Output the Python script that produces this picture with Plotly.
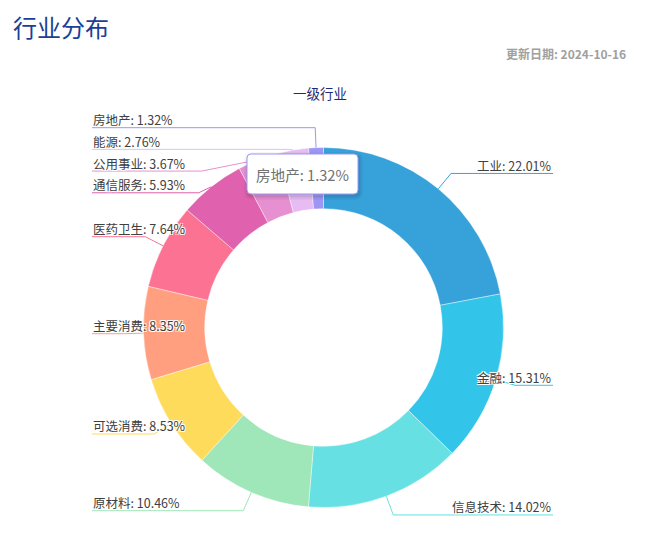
import math
import plotly.graph_objects as go

# ---------------- data ----------------
categories = ["工业", "金融", "信息技术", "原材料", "可选消费", "主要消费",
              "医药卫生", "通信服务", "公用事业", "能源", "房地产"]
weights = [22.01, 15.31, 14.02, 10.46, 8.53, 8.35, 7.64, 5.93, 3.67, 2.76, 1.32]
colors = ['#37A2DA', '#32C5E9', '#67E0E3', '#9FE6B8', '#FFDB5C', '#ff9f7f',
          '#fb7293', '#E062AE', '#E690D1', '#e7bcf3', '#9d96f5']
title_text = "行业分布"
update_text = "更新日期: 2024-10-16"
subtitle_text = "一级行业"
tooltip_index = 10  # hovered slice

# ---------------- layout constants (pixels) ----------------
W, H = 656, 551
CX, CY, R = 323.5, 327.5, 180.0
HOLE = 0.66
LEN1 = 20.0
LEFT_EDGE, RIGHT_EDGE = 92.0, 553.0
GAP = 21.7
LABEL_DIST = 5.0
MAX_SURFACE_ANGLE = 80.0
FONT = "Noto Sans CJK SC, Noto Sans, sans-serif"
LABEL_SIZE = 12.5


def px(x):
    return x / W


def py(y):
    return 1 - y / H


def text_width(s, size):
    w = 0.0
    for ch in s:
        if ord(ch) > 0x2E80:
            w += size
        elif ch in '.:, ':
            w += 0.28 * size
        elif ch == '%':
            w += 0.85 * size
        else:
            w += 0.56 * size
    return w


total = sum(weights)
items = []
cum = 0.0
for i, (name, v) in enumerate(zip(categories, weights)):
    mid = (cum + v / 2) / total
    cum += v
    th = 2 * math.pi * mid
    nx, ny = math.sin(th), -math.cos(th)
    items.append(dict(i=i, name=name, v=v, nx=nx, ny=ny,
                      left=nx < 0,
                      ly=CY + (R + LEN1) * ny))

# shift labels to avoid overlap, per side
for side in (True, False):
    lst = sorted([it for it in items if it['left'] == side], key=lambda d: d['ly'])
    prev = None
    for it in lst:
        if prev is not None and it['ly'] < prev + GAP:
            it['ly'] = prev + GAP
        prev = it['ly']


def project_point_to_line(x1, y1, x2, y2, x, y):
    dx, dy = x2 - x1, y2 - y1
    L2 = dx * dx + dy * dy
    t = ((x - x1) * dx + (y - y1) * dy) / L2
    ox, oy = x1 + dx * t, y1 + dy * t
    return math.hypot(ox - x, oy - y), (ox, oy)


def limit_surface_angle(pts, normal, max_angle):
    p0, p1, p2 = pts
    d1 = (p1[0] - p0[0], p1[1] - p0[1])
    d2 = (p2[0] - p1[0], p2[1] - p1[1])
    l1, l2 = math.hypot(*d1), math.hypot(*d2)
    if l1 < 1e-3 or l2 < 1e-3:
        return pts
    d1 = (d1[0] / l1, d1[1] / l1)
    d2 = (d2[0] / l2, d2[1] / l2)
    cosang = d1[0] * normal[0] + d1[1] * normal[1]
    ma = math.radians(max_angle)
    if cosang < math.cos(ma):
        d, proj = project_point_to_line(p1[0], p1[1], p2[0], p2[1], p0[0], p0[1])
        angle2 = math.acos(max(-1, min(1, d2[0] * normal[0] + d2[1] * normal[1])))
        new_angle = math.pi / 2 + angle2 - ma
        if new_angle >= math.pi / 2:
            q = p2
        else:
            s = d / math.tan(math.pi / 2 - new_angle)
            q = (proj[0] + d2[0] * s, proj[1] + d2[1] * s)
            t = (q[0] - p1[0]) / (p2[0] - p1[0]) if p2[0] != p1[0] else (q[1] - p1[1]) / (p2[1] - p1[1])
            if t < 0:
                q = p1
            elif t > 1:
                q = p2
        return [p0, q, p2]
    return pts


shapes = []
annotations = []

for it in items:
    label = f"{it['name']}: {it['v']:.2f}%"
    tw = text_width(label, LABEL_SIZE)
    p0 = (CX + R * it['nx'], CY + R * it['ny'])
    p1 = (CX + (R + LEN1) * it['nx'], it['ly'])
    if it['left']:
        p2 = (LEFT_EDGE + tw + LABEL_DIST, it['ly'])
    else:
        p2 = (RIGHT_EDGE - tw - LABEL_DIST, it['ly'])
    pts = limit_surface_angle([p0, p1, p2], (it['nx'], it['ny']), MAX_SURFACE_ANGLE)
    end = (LEFT_EDGE if it['left'] else RIGHT_EDGE, it['ly'])
    pts = [pts[0], pts[1], end]
    path = "M " + " L ".join(f"{px(x):.5f},{py(y):.5f}" for x, y in pts)
    shapes.append(dict(type='path', xref='paper', yref='paper', path=path,
                       line=dict(color=colors[it['i']], width=1), layer='above'))
    annotations.append(dict(
        text=label, showarrow=False, xref='paper', yref='paper',
        x=px(LEFT_EDGE - 1 if it['left'] else RIGHT_EDGE + 1),
        xanchor='left' if it['left'] else 'right',
        y=py(it['ly'] - 8), yanchor='middle',
        font=dict(family=FONT, size=LABEL_SIZE, color='#404040',
                  shadow="1px 1px 0px #fff, -1px -1px 0px #fff, 1px -1px 0px #fff, -1px 1px 0px #fff"),
    ))

# ---------------- tooltip ----------------
TX, TY, TW, TH, TR = 247.0, 154.0, 111.0, 40.0, 4.0


def rounded_rect(x, y, w, h, r):
    pts = [
        f"M {px(x + r)},{py(y)}",
        f"L {px(x + w - r)},{py(y)}",
        f"Q {px(x + w)},{py(y)} {px(x + w)},{py(y + r)}",
        f"L {px(x + w)},{py(y + h - r)}",
        f"Q {px(x + w)},{py(y + h)} {px(x + w - r)},{py(y + h)}",
        f"L {px(x + r)},{py(y + h)}",
        f"Q {px(x)},{py(y + h)} {px(x)},{py(y + h - r)}",
        f"L {px(x)},{py(y + r)}",
        f"Q {px(x)},{py(y)} {px(x + r)},{py(y)}",
        "Z",
    ]
    return " ".join(pts)


for k, a in ((4, 0.03), (2.5, 0.04), (1.2, 0.06)):
    shapes.append(dict(type='path', xref='paper', yref='paper',
                       path=rounded_rect(TX - k + 1, TY - k + 2, TW + 2 * k, TH + 2 * k, TR + k),
                       fillcolor=f'rgba(0,0,0,{a})', line=dict(width=0), layer='above'))
shapes.append(dict(type='path', xref='paper', yref='paper',
                   path=rounded_rect(TX, TY, TW, TH, TR),
                   fillcolor='white', line=dict(color=colors[tooltip_index], width=1), layer='above'))
annotations.append(dict(
    text=f"{categories[tooltip_index]}: {weights[tooltip_index]:.2f}%",
    showarrow=False, xref='paper', yref='paper',
    x=px(TX + TW / 2), y=py(TY + TH / 2), xanchor='center', yanchor='middle',
    font=dict(family=FONT, size=14.6, color='#707070')))

# ---------------- titles ----------------
annotations.append(dict(text=title_text, showarrow=False, xref='paper', yref='paper',
                        x=px(11), y=py(26), xanchor='left', yanchor='middle',
                        font=dict(family=FONT, size=24, color='#1b3f94')))
annotations.append(dict(text=update_text, showarrow=False, xref='paper', yref='paper',
                        x=px(628), y=py(54), xanchor='right', yanchor='middle',
                        font=dict(family=FONT, size=12, color='#a0a0a0', weight=600)))
annotations.append(dict(text=subtitle_text, showarrow=False, xref='paper', yref='paper',
                        x=px(320), y=py(93), xanchor='center', yanchor='middle',
                        font=dict(family=FONT, size=13.5, color='#1e2a78')))

fig = go.Figure(go.Pie(
    labels=categories, values=weights, sort=False, direction='clockwise', rotation=0,
    hole=HOLE, textinfo='none', hoverinfo='label+percent', showlegend=False,
    marker=dict(colors=colors, line=dict(color='white', width=0.4)),
    domain=dict(x=[px(CX - R), px(CX + R)], y=[py(CY + R), py(CY - R)]),
))
fig.update_layout(width=W, height=H, margin=dict(l=0, r=0, t=0, b=0),
                  paper_bgcolor='white', plot_bgcolor='white',
                  shapes=shapes, annotations=annotations, showlegend=False)
fig.write_html("out.html", config={'displayModeBar': False},
               post_script="document.body.style.margin='0px';document.body.style.overflow='hidden';")
